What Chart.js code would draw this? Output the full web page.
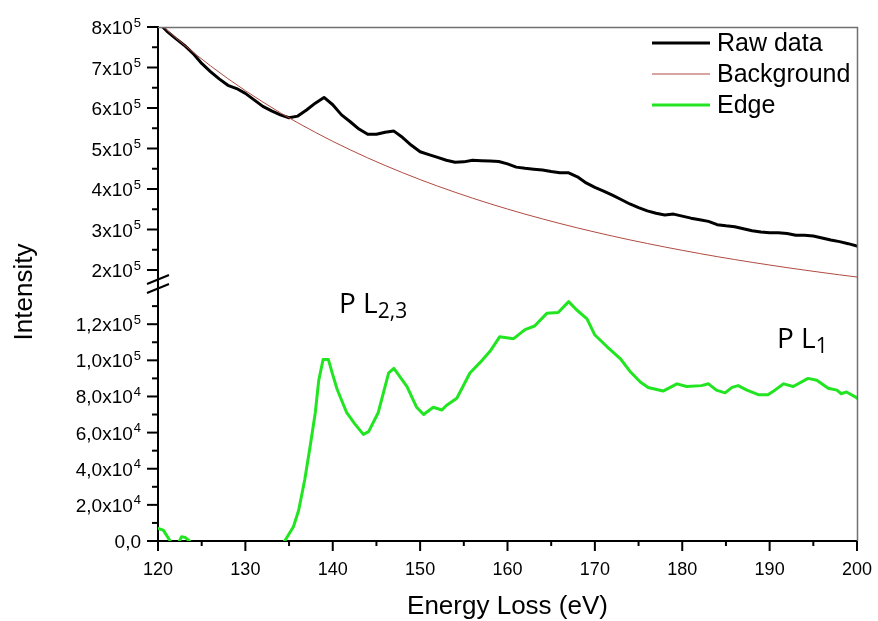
<!DOCTYPE html>
<html>
<head>
<meta charset="utf-8">
<script src="https://cdn.jsdelivr.net/npm/chart.js@4.4.1/dist/chart.umd.min.js"></script>
<style>
  html, body { margin: 0; padding: 0; background: #ffffff; }
  #wrap { width: 878px; height: 621px; }
</style>
</head>
<body>
<div id="wrap"><canvas id="c" width="878" height="621"></canvas></div>
<script>
// Raw spectrum (counts) sampled every 1 eV
const energyRaw = [120,121,122,123,124,125,126,127,128,129,130,131,132,133,134,135,136,137,138,139,
  140,141,142,143,144,145,146,147,148,149,150,151,152,153,154,155,156,157,158,159,
  160,161,162,163,164,165,166,167,168,169,170,171,172,173,174,175,176,177,178,179,
  180,181,182,183,184,185,186,187,188,189,190,191,192,193,194,195,196,197,198,199,200];
const rawData = [812000,790000,772000,755000,735000,710000,690000,672000,656000,648000,
  636000,620000,604000,593000,583000,576000,580000,595000,612000,626000,
  608000,583000,566000,548000,535000,535000,540000,543000,527000,508000,
  492000,485000,478000,471000,466000,467000,471000,470000,469000,468000,
  462000,454000,451000,449000,447000,443000,440000,440000,430000,415000,
  404000,395000,385000,374000,363000,354000,346000,340000,336000,338000,
  333000,328000,324000,320000,312000,309000,307000,302000,297000,294000,
  292000,292000,290000,286000,286000,284000,279000,274000,270000,265000,259000];

// Fitted background, every 2 eV
const energyBg = [120,122,124,126,128,130,132,134,136,138,140,142,144,146,148,150,152,154,156,158,
  160,162,164,166,168,170,172,174,176,178,180,182,184,186,188,190,192,194,196,198,200];
const backgroundData = [812000,773800,737900,704200,672500,642800,614800,588300,563400,539900,
  517600,496700,476800,458000,440200,423200,407100,392000,377400,363600,
  350500,338000,326200,314800,304000,293700,283800,274400,265400,256800,
  248600,240600,233000,225800,218900,212300,205800,199800,193800,188100,182700];

// Background-subtracted edge
const energyEdge = [120.0,120.6,121.4,121.8,122.3,122.7,123.1,123.6,124.2,125.5,127.0,128.5,130.0,131.5,133.0,133.8,
  134.5,135.5,136.1,136.8,137.4,138.0,138.4,138.9,139.5,140.0,140.5,141.6,142.5,143.5,144.1,145.2,
  146.4,147.0,148.5,149.6,150.4,151.5,152.5,153.0,154.2,155.7,156.9,158.0,159.1,160.7,162.0,163.1,
  164.5,165.8,167.0,167.9,169.1,170.0,171.4,172.9,174.0,175.2,176.1,177.8,179.4,180.5,182.2,183.0,
  183.9,184.9,185.7,186.4,187.4,188.7,189.8,190.6,191.6,192.7,194.4,195.4,196.7,197.7,198.2,198.8,199.9,200.0];
const edgeData = [7000,6000,0,-5000,-1500,2400,2000,0,-9000,-12000,-10000,-14000,-11000,-13000,-9000,-6000,
  0,7900,17000,34000,52000,71000,89000,100500,100500,92000,84000,71000,65000,59000,60500,71000,
  93000,95500,85500,74000,70000,74000,72500,75000,79000,93000,99000,105000,113000,112000,117000,119000,
  126000,126500,132500,128000,123000,114000,107500,101000,94000,88000,85000,83000,87000,85500,86000,87000,
  83500,82000,85000,86000,83500,81000,81000,83500,87000,85500,90000,89000,84500,83500,81500,82500,79500,79000];

const seriesNames = ['Raw data', 'Background', 'Edge'];
const seriesColors = ['#000000', '#b04a40', '#22e522'];
const seriesWidths = [3, 1, 3];

const FONT = "'Liberation Sans', Arial, sans-serif";
const ANNOT_FONT = "'Open Sans', 'Liberation Sans', sans-serif";

function pts(xs, ys) { return xs.map((x, i) => ({ x: x, y: ys[i] })); }

// "a x 10^n" tick labels, split into base text and exponent
function topLabel(v) { return { base: (v / 1e5).toFixed(0) + 'x10', sup: '5' }; }
function botLabel(v) {
  if (v === 0) return { base: '0,0', sup: '' };
  if (v >= 1e5) return { base: (v / 1e5).toFixed(1).replace('.', ',') + 'x10', sup: '5' };
  return { base: (v / 1e4).toFixed(1).replace('.', ',') + 'x10', sup: '4' };
}

const decor = {
  id: 'decor',
  afterDraw(chart) {
    const ctx = chart.ctx;
    const area = chart.chartArea;
    const xs = chart.scales.x, yt = chart.scales.yTop, yb = chart.scales.yBot;
    ctx.save();

    // frame top/right
    ctx.strokeStyle = '#707070';
    ctx.lineWidth = 1.5;
    ctx.beginPath();
    ctx.moveTo(area.left, area.top + 0.5);
    ctx.lineTo(area.right + 0.5, area.top + 0.5);
    ctx.lineTo(area.right + 0.5, area.bottom);
    ctx.stroke();

    ctx.strokeStyle = '#000';
    ctx.lineWidth = 2;
    ctx.fillStyle = '#000';

    // x ticks and labels
    ctx.font = '18px ' + FONT;
    ctx.textAlign = 'center';
    ctx.textBaseline = 'alphabetic';
    xs.ticks.forEach(t => {
      const px = xs.getPixelForValue(t.value);
      const major = t.value % 10 === 0;
      ctx.beginPath();
      ctx.moveTo(px, area.bottom);
      ctx.lineTo(px, area.bottom + (major ? 10 : 5));
      ctx.stroke();
      if (major) ctx.fillText(String(t.value), px, 575);
    });

    // y ticks and labels
    const drawY = (scale, isMajor, labelFn, maxV) => {
      scale.ticks.forEach(t => {
        const v = t.value;
        if (v > maxV) return;
        const py = scale.getPixelForValue(v);
        const major = isMajor(v);
        ctx.beginPath();
        ctx.moveTo(area.left - (major ? 11 : 6), py);
        ctx.lineTo(area.left, py);
        ctx.stroke();
        if (!major) return;
        const lab = labelFn(v);
        const rightEdge = area.left - 17;
        ctx.font = '13px ' + FONT;
        const supW = lab.sup ? ctx.measureText(lab.sup).width : 0;
        ctx.textAlign = 'left';
        if (lab.sup) ctx.fillText(lab.sup, rightEdge - supW, py - 0.5);
        ctx.font = '19px ' + FONT;
        ctx.textAlign = 'right';
        ctx.fillText(lab.base, rightEdge - supW - (lab.sup ? 1 : 0), py + 7);
      });
    };
    drawY(yt, v => v % 1e5 === 0, topLabel, 8e5);
    drawY(yb, v => v % 2e4 === 0 && v <= 1.2e5, botLabel, 1.3e5);

    // axis break marks
    ctx.beginPath();
    ctx.moveTo(area.left - 11, 284); ctx.lineTo(area.left + 11, 275);
    ctx.moveTo(area.left - 11, 293); ctx.lineTo(area.left + 11, 284);
    ctx.stroke();

    // axis titles
    ctx.font = '26px ' + FONT;
    ctx.textAlign = 'center';
    ctx.textBaseline = 'middle';
    ctx.fillText('Energy Loss (eV)', (area.left + area.right) / 2, 607);
    ctx.save();
    ctx.translate(25, 292);
    ctx.rotate(-Math.PI / 2);
    ctx.fillText('Intensity', 0, 0);
    ctx.restore();

    // legend
    ctx.textAlign = 'left';
    ctx.textBaseline = 'alphabetic';
    ctx.font = '25px ' + FONT;
    const rows = [43, 74, 105];
    seriesNames.forEach((name, i) => {
      ctx.strokeStyle = seriesColors[i];
      ctx.lineWidth = seriesWidths[i];
      ctx.beginPath();
      ctx.moveTo(652, rows[i]);
      ctx.lineTo(710, rows[i]);
      ctx.stroke();
      ctx.fillStyle = '#000';
      ctx.fillText(name, 717, rows[i] + 8);
    });

    // edge labels
    const edgeLabel = (main, sub, x, y) => {
      ctx.font = '28px ' + ANNOT_FONT;
      ctx.fillText(main, x, y);
      const w = ctx.measureText(main).width;
      ctx.font = '21px ' + ANNOT_FONT;
      ctx.fillText(sub, x + w, y + 5);
    };
    edgeLabel('P L', '2,3', 339, 313);
    edgeLabel('P L', '1', 777, 348);

    ctx.restore();
  }
};

new Chart(document.getElementById('c'), {
  type: 'line',
  data: {
    datasets: [
      { label: seriesNames[0], data: pts(energyRaw, rawData), yAxisID: 'yTop',
        borderColor: seriesColors[0], borderWidth: seriesWidths[0], order: 1 },
      { label: seriesNames[1], data: pts(energyBg, backgroundData), yAxisID: 'yTop',
        borderColor: seriesColors[1], borderWidth: seriesWidths[1], order: 0,
        clip: { left: 0, top: 0, right: 0, bottom: 30 } },
      { label: seriesNames[2], data: pts(energyEdge, edgeData), yAxisID: 'yBot',
        borderColor: seriesColors[2], borderWidth: seriesWidths[2], order: 2 }
    ]
  },
  options: {
    responsive: false,
    animation: false,
    devicePixelRatio: 1,
    layout: { padding: { top: 27, right: 21, left: 0, bottom: 0 } },
    elements: { point: { radius: 0 }, line: { tension: 0, borderJoinStyle: 'round', borderCapStyle: 'round' } },
    plugins: { legend: { display: false }, tooltip: { enabled: false } },
    scales: {
      x: {
        type: 'linear', min: 120, max: 200,
        ticks: { display: false, stepSize: 5, maxTicksLimit: 100 },
        grid: { display: false },
        border: { display: true, color: '#000', width: 2 },
        afterFit: s => { s.height = 80; }
      },
      yBot: {
        type: 'linear', position: 'left', stack: 'v', stackWeight: 271,
        min: 0, max: 150000,
        ticks: { display: false, stepSize: 10000, maxTicksLimit: 100 },
        grid: { display: false },
        border: { display: true, color: '#000', width: 2 },
        afterFit: s => { s.width = 158; }
      },
      yTop: {
        type: 'linear', position: 'left', stack: 'v', stackWeight: 243,
        min: 200000, max: 800000,
        ticks: { display: false, stepSize: 50000, maxTicksLimit: 100 },
        grid: { display: false },
        border: { display: true, color: '#000', width: 2 },
        afterFit: s => { s.width = 158; }
      }
    }
  },
  plugins: [decor]
});
</script>
</body>
</html>
